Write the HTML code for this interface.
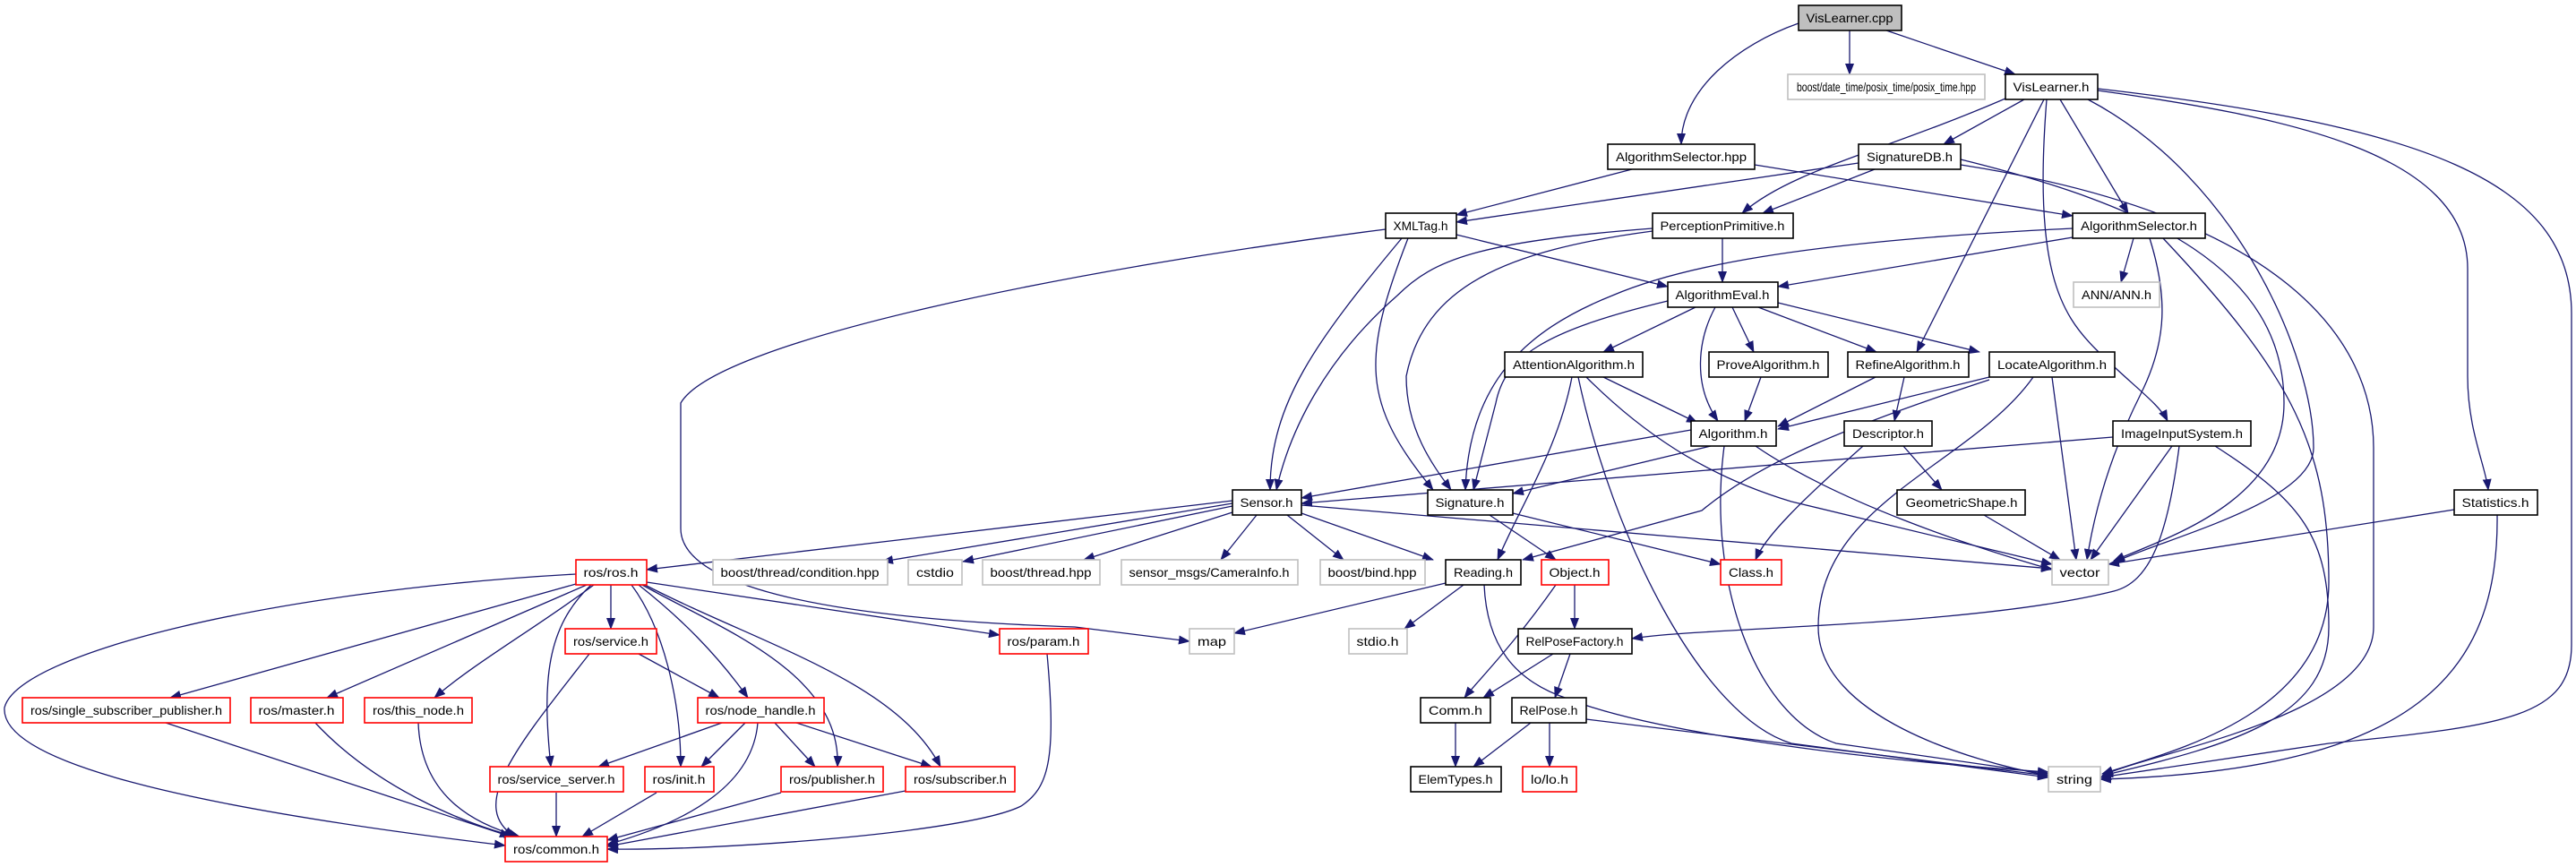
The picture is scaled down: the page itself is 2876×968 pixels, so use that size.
<!DOCTYPE html>
<html><head><meta charset="utf-8"><style>
html,body{margin:0;padding:0;background:#fff;}
svg{display:block;}
text{font-family:"Liberation Sans",sans-serif;font-size:14px;fill:#000;text-anchor:middle;}
.e path{fill:none;stroke:#191970;stroke-width:1.3;}
.n{fill:#fff;stroke:#000;stroke-width:1.6;}
.g{fill:#fff;stroke:#bfbfbf;stroke-width:1.6;}
.r{fill:#fff;stroke:#ff0000;stroke-width:1.6;}
</style></head><body>
<svg width="2876" height="968" viewBox="0 0 2876 968" xmlns="http://www.w3.org/2000/svg">
<defs><marker id="a" markerWidth="13" markerHeight="10" refX="12" refY="5" orient="auto" markerUnits="userSpaceOnUse"><path d="M0,0 L13,5 L0,10 z" fill="#191970"/></marker></defs>
<g class="e" marker-end="url(#a)">
<path d="M2008 26 C1940 50 1877 100 1877 161" marker-end="url(#a)"/>
<path d="M2065 34 L2065 83" marker-end="url(#a)"/>
<path d="M2106 34 L2250 83" marker-end="url(#a)"/>
<path d="M2260 111 L2170 161" marker-end="url(#a)"/>
<path d="M2239 110 C2100 170 2000 190 1945 238" marker-end="url(#a)"/>
<path d="M2282 111 L2140 393" marker-end="url(#a)"/>
<path d="M2300 111 L2376 238" marker-end="url(#a)"/>
<path d="M2285 111 C2270 300 2300 350 2340 390 C2380 430 2410 450 2420 470" marker-end="url(#a)"/>
<path d="M2331 111 C2500 200 2583 400 2583 500 C2583 560 2420 600 2360 628" marker-end="url(#a)"/>
<path d="M2342 101 C2550 130 2755 170 2755 300 L2755 420 C2755 480 2775 520 2778 547" marker-end="url(#a)"/>
<path d="M2342 99 C2700 140 2871 200 2871 350 L2871 720 C2871 800 2800 810 2600 830 L2345 868" marker-end="url(#a)"/>
<path d="M2075 182 L1626 248" marker-end="url(#a)"/>
<path d="M2093 189 L1968 238" marker-end="url(#a)"/>
<path d="M2189 178 C2400 230 2550 300 2550 450 C2550 560 2420 600 2360 626" marker-end="url(#a)"/>
<path d="M2189 184 C2550 240 2650 380 2650 500 L2650 700 C2650 800 2400 840 2347 866" marker-end="url(#a)"/>
<path d="M1822 189 L1626 240" marker-end="url(#a)"/>
<path d="M1959 184 L2314 241" marker-end="url(#a)"/>
<path d="M1547 256 C1200 300 800 380 760 450 L760 590 C760 650 900 690 1200 700 L1328 716" marker-end="url(#a)"/>
<path d="M1626 262 L1862 320" marker-end="url(#a)"/>
<path d="M1565 266 C1470 380 1418 450 1418 547" marker-end="url(#a)"/>
<path d="M1572 266 C1520 400 1520 450 1600 547" marker-end="url(#a)"/>
<path d="M1923 266 L1923 315" marker-end="url(#a)"/>
<path d="M1845 255 C1650 270 1600 290 1560 330 C1480 400 1440 480 1425 547" marker-end="url(#a)"/>
<path d="M1845 258 C1680 280 1590 320 1570 420 C1570 480 1600 520 1620 547" marker-end="url(#a)"/>
<path d="M2314 265 L1985 320" marker-end="url(#a)"/>
<path d="M2314 255 C2000 270 1870 300 1800 330 C1700 370 1640 430 1636 547" marker-end="url(#a)"/>
<path d="M2382 266 L2368 315" marker-end="url(#a)"/>
<path d="M2400 266 C2420 330 2420 380 2390 440 C2360 500 2340 560 2330 625" marker-end="url(#a)"/>
<path d="M2415 266 C2560 420 2600 500 2600 650 C2600 800 2420 840 2347 864" marker-end="url(#a)"/>
<path d="M1893 343 L1790 393" marker-end="url(#a)"/>
<path d="M1934 343 L1958 393" marker-end="url(#a)"/>
<path d="M1963 343 L2095 393" marker-end="url(#a)"/>
<path d="M1985 338 L2210 393" marker-end="url(#a)"/>
<path d="M1915 343 C1895 380 1890 430 1918 470" marker-end="url(#a)"/>
<path d="M1862 336 C1720 370 1680 400 1670 450 L1645 547" marker-end="url(#a)"/>
<path d="M1790 421 L1895 472" marker-end="url(#a)"/>
<path d="M1755 421 C1740 500 1700 560 1672 625" marker-end="url(#a)"/>
<path d="M1762 421 C1800 600 1900 800 2000 830 L2287 868" marker-end="url(#a)"/>
<path d="M1771 421 C1830 480 1900 530 2000 560 L2291 630" marker-end="url(#a)"/>
<path d="M1966 421 L1948 470" marker-end="url(#a)"/>
<path d="M2094 421 L1985 476" marker-end="url(#a)"/>
<path d="M2126 421 L2115 470" marker-end="url(#a)"/>
<path d="M2221 421 L1985 479" marker-end="url(#a)"/>
<path d="M2221 424 C2050 480 1960 520 1900 570 L1700 625" marker-end="url(#a)"/>
<path d="M2291 421 L2318 625" marker-end="url(#a)"/>
<path d="M2270 421 C2200 520 2030 560 2030 700 C2030 800 2200 850 2287 866" marker-end="url(#a)"/>
<path d="M1888 480 L1453 556" marker-end="url(#a)"/>
<path d="M1910 498 L1689 551" marker-end="url(#a)"/>
<path d="M1960 498 C2050 560 2200 610 2291 636" marker-end="url(#a)"/>
<path d="M1925 498 C1905 650 1960 800 2050 830 L2287 864" marker-end="url(#a)"/>
<path d="M2080 498 C2010 560 1970 600 1960 625" marker-end="url(#a)"/>
<path d="M2125 498 L2168 547" marker-end="url(#a)"/>
<path d="M2359 488 L1453 562" marker-end="url(#a)"/>
<path d="M2425 498 L2334 625" marker-end="url(#a)"/>
<path d="M2433 498 C2420 600 2400 650 2360 660 C2200 700 1900 700 1822 713" marker-end="url(#a)"/>
<path d="M2473 498 C2570 560 2600 600 2600 700 C2600 800 2500 830 2347 866" marker-end="url(#a)"/>
<path d="M2215 575 L2300 625" marker-end="url(#a)"/>
<path d="M2740 569 L2354 630" marker-end="url(#a)"/>
<path d="M2788 575 C2790 750 2700 860 2345 870" marker-end="url(#a)"/>
<path d="M1376 559 L722 636" marker-end="url(#a)"/>
<path d="M1376 562 L985 627" marker-end="url(#a)"/>
<path d="M1376 565 L1075 627" marker-end="url(#a)"/>
<path d="M1376 572 L1210 625" marker-end="url(#a)"/>
<path d="M1403 575 L1363 625" marker-end="url(#a)"/>
<path d="M1437 575 L1500 625" marker-end="url(#a)"/>
<path d="M1453 573 L1600 625" marker-end="url(#a)"/>
<path d="M1453 564 L2291 635" marker-end="url(#a)"/>
<path d="M1663 575 L1737 625" marker-end="url(#a)"/>
<path d="M1689 573 L1921 630" marker-end="url(#a)"/>
<path d="M1614 651 L1378 707" marker-end="url(#a)"/>
<path d="M1634 653 L1568 702" marker-end="url(#a)"/>
<path d="M1657 653 C1660 720 1690 760 1750 780 C1850 820 2100 850 2287 862" marker-end="url(#a)"/>
<path d="M1758 653 L1758 702" marker-end="url(#a)"/>
<path d="M1737 653 C1690 720 1650 760 1635 779" marker-end="url(#a)"/>
<path d="M1734 730 L1656 779" marker-end="url(#a)"/>
<path d="M1753 730 L1736 779" marker-end="url(#a)"/>
<path d="M1709 807 L1645 856" marker-end="url(#a)"/>
<path d="M1730 807 L1730 856" marker-end="url(#a)"/>
<path d="M1771 803 L2287 866" marker-end="url(#a)"/>
<path d="M1625 807 L1625 856" marker-end="url(#a)"/>
<path d="M643 641 C300 660 20 730 5 790 C0 850 200 900 564 944" marker-end="url(#a)"/>
<path d="M643 652 L190 779" marker-end="url(#a)"/>
<path d="M655 653 L365 779" marker-end="url(#a)"/>
<path d="M663 653 C600 700 530 740 485 779" marker-end="url(#a)"/>
<path d="M682 653 L682 702" marker-end="url(#a)"/>
<path d="M660 653 C610 700 605 760 615 856" marker-end="url(#a)"/>
<path d="M705 653 C740 700 760 780 760 856" marker-end="url(#a)"/>
<path d="M713 653 C760 690 800 730 835 779" marker-end="url(#a)"/>
<path d="M717 653 C800 700 940 750 935 856" marker-end="url(#a)"/>
<path d="M720 653 C850 720 1000 760 1050 856" marker-end="url(#a)"/>
<path d="M722 650 L1116 709" marker-end="url(#a)"/>
<path d="M713 730 L803 779" marker-end="url(#a)"/>
<path d="M658 730 C580 830 520 900 575 934" marker-end="url(#a)"/>
<path d="M806 807 L668 856" marker-end="url(#a)"/>
<path d="M832 807 L783 856" marker-end="url(#a)"/>
<path d="M846 807 C840 880 760 920 678 943" marker-end="url(#a)"/>
<path d="M865 807 L910 856" marker-end="url(#a)"/>
<path d="M889 807 L1040 856" marker-end="url(#a)"/>
<path d="M185 807 L570 934" marker-end="url(#a)"/>
<path d="M352 807 C420 880 520 920 575 934" marker-end="url(#a)"/>
<path d="M467 807 C470 890 530 920 580 934" marker-end="url(#a)"/>
<path d="M621 885 L621 934" marker-end="url(#a)"/>
<path d="M733 885 L650 934" marker-end="url(#a)"/>
<path d="M872 885 L678 938" marker-end="url(#a)"/>
<path d="M1011 883 L678 945" marker-end="url(#a)"/>
<path d="M1169 730 C1180 850 1170 880 1140 900 C1080 930 800 950 678 948" marker-end="url(#a)"/>
</g>
<g>
<rect x="2008" y="6" width="115" height="28" class="n" style="fill:#bfbfbf"/><text x="2065" y="25" textLength="97" lengthAdjust="spacingAndGlyphs">VisLearner.cpp</text>
<rect x="1996" y="83" width="220" height="28" class="g"/><text x="2106" y="102" textLength="200" lengthAdjust="spacingAndGlyphs">boost/date_time/posix_time/posix_time.hpp</text>
<rect x="2239" y="83" width="103" height="28" class="n"/><text x="2290" y="102" textLength="85" lengthAdjust="spacingAndGlyphs">VisLearner.h</text>
<rect x="2075" y="161" width="114" height="28" class="n"/><text x="2132" y="180" textLength="96" lengthAdjust="spacingAndGlyphs">SignatureDB.h</text>
<rect x="1795" y="161" width="164" height="28" class="n"/><text x="1877" y="180" textLength="146" lengthAdjust="spacingAndGlyphs">AlgorithmSelector.hpp</text>
<rect x="1547" y="238" width="79" height="28" class="n"/><text x="1586" y="257" textLength="61" lengthAdjust="spacingAndGlyphs">XMLTag.h</text>
<rect x="1845" y="238" width="157" height="28" class="n"/><text x="1923" y="257" textLength="139" lengthAdjust="spacingAndGlyphs">PerceptionPrimitive.h</text>
<rect x="2314" y="238" width="148" height="28" class="n"/><text x="2388" y="257" textLength="130" lengthAdjust="spacingAndGlyphs">AlgorithmSelector.h</text>
<rect x="1862" y="315" width="123" height="28" class="n"/><text x="1923" y="334" textLength="105" lengthAdjust="spacingAndGlyphs">AlgorithmEval.h</text>
<rect x="2315" y="315" width="96" height="28" class="g"/><text x="2363" y="334" textLength="78" lengthAdjust="spacingAndGlyphs">ANN/ANN.h</text>
<rect x="1680" y="393" width="154" height="28" class="n"/><text x="1757" y="412" textLength="136" lengthAdjust="spacingAndGlyphs">AttentionAlgorithm.h</text>
<rect x="1908" y="393" width="133" height="28" class="n"/><text x="1974" y="412" textLength="115" lengthAdjust="spacingAndGlyphs">ProveAlgorithm.h</text>
<rect x="2063" y="393" width="135" height="28" class="n"/><text x="2130" y="412" textLength="117" lengthAdjust="spacingAndGlyphs">RefineAlgorithm.h</text>
<rect x="2221" y="393" width="140" height="28" class="n"/><text x="2291" y="412" textLength="122" lengthAdjust="spacingAndGlyphs">LocateAlgorithm.h</text>
<rect x="1888" y="470" width="95" height="28" class="n"/><text x="1935" y="489" textLength="77" lengthAdjust="spacingAndGlyphs">Algorithm.h</text>
<rect x="2059" y="470" width="98" height="28" class="n"/><text x="2108" y="489" textLength="80" lengthAdjust="spacingAndGlyphs">Descriptor.h</text>
<rect x="2359" y="470" width="154" height="28" class="n"/><text x="2436" y="489" textLength="136" lengthAdjust="spacingAndGlyphs">ImageInputSystem.h</text>
<rect x="1376" y="547" width="77" height="28" class="n"/><text x="1414" y="566" textLength="59" lengthAdjust="spacingAndGlyphs">Sensor.h</text>
<rect x="1594" y="547" width="95" height="28" class="n"/><text x="1641" y="566" textLength="77" lengthAdjust="spacingAndGlyphs">Signature.h</text>
<rect x="2118" y="547" width="143" height="28" class="n"/><text x="2190" y="566" textLength="125" lengthAdjust="spacingAndGlyphs">GeometricShape.h</text>
<rect x="2740" y="547" width="93" height="28" class="n"/><text x="2786" y="566" textLength="75" lengthAdjust="spacingAndGlyphs">Statistics.h</text>
<rect x="643" y="625" width="79" height="28" class="r"/><text x="682" y="644" textLength="61" lengthAdjust="spacingAndGlyphs">ros/ros.h</text>
<rect x="796" y="625" width="195" height="28" class="g"/><text x="893" y="644" textLength="177" lengthAdjust="spacingAndGlyphs">boost/thread/condition.hpp</text>
<rect x="1014" y="625" width="60" height="28" class="g"/><text x="1044" y="644" textLength="42" lengthAdjust="spacingAndGlyphs">cstdio</text>
<rect x="1097" y="625" width="131" height="28" class="g"/><text x="1162" y="644" textLength="113" lengthAdjust="spacingAndGlyphs">boost/thread.hpp</text>
<rect x="1252" y="625" width="197" height="28" class="g"/><text x="1350" y="644" textLength="179" lengthAdjust="spacingAndGlyphs">sensor_msgs/CameraInfo.h</text>
<rect x="1474" y="625" width="117" height="28" class="g"/><text x="1532" y="644" textLength="99" lengthAdjust="spacingAndGlyphs">boost/bind.hpp</text>
<rect x="1614" y="625" width="84" height="28" class="n"/><text x="1656" y="644" textLength="66" lengthAdjust="spacingAndGlyphs">Reading.h</text>
<rect x="1721" y="625" width="75" height="28" class="r"/><text x="1758" y="644" textLength="57" lengthAdjust="spacingAndGlyphs">Object.h</text>
<rect x="1921" y="625" width="68" height="28" class="r"/><text x="1955" y="644" textLength="50" lengthAdjust="spacingAndGlyphs">Class.h</text>
<rect x="2291" y="625" width="63" height="28" class="g"/><text x="2322" y="644" textLength="45" lengthAdjust="spacingAndGlyphs">vector</text>
<rect x="631" y="702" width="102" height="28" class="r"/><text x="682" y="721" textLength="84" lengthAdjust="spacingAndGlyphs">ros/service.h</text>
<rect x="1116" y="702" width="99" height="28" class="r"/><text x="1165" y="721" textLength="81" lengthAdjust="spacingAndGlyphs">ros/param.h</text>
<rect x="1328" y="702" width="50" height="28" class="g"/><text x="1353" y="721" textLength="32" lengthAdjust="spacingAndGlyphs">map</text>
<rect x="1506" y="702" width="65" height="28" class="g"/><text x="1538" y="721" textLength="47" lengthAdjust="spacingAndGlyphs">stdio.h</text>
<rect x="1695" y="702" width="127" height="28" class="n"/><text x="1758" y="721" textLength="109" lengthAdjust="spacingAndGlyphs">RelPoseFactory.h</text>
<rect x="25" y="779" width="232" height="28" class="r"/><text x="141" y="798" textLength="214" lengthAdjust="spacingAndGlyphs">ros/single_subscriber_publisher.h</text>
<rect x="280" y="779" width="103" height="28" class="r"/><text x="331" y="798" textLength="85" lengthAdjust="spacingAndGlyphs">ros/master.h</text>
<rect x="407" y="779" width="120" height="28" class="r"/><text x="467" y="798" textLength="102" lengthAdjust="spacingAndGlyphs">ros/this_node.h</text>
<rect x="779" y="779" width="141" height="28" class="r"/><text x="849" y="798" textLength="123" lengthAdjust="spacingAndGlyphs">ros/node_handle.h</text>
<rect x="1586" y="779" width="78" height="28" class="n"/><text x="1625" y="798" textLength="60" lengthAdjust="spacingAndGlyphs">Comm.h</text>
<rect x="1688" y="779" width="83" height="28" class="n"/><text x="1729" y="798" textLength="65" lengthAdjust="spacingAndGlyphs">RelPose.h</text>
<rect x="547" y="856" width="149" height="28" class="r"/><text x="621" y="875" textLength="131" lengthAdjust="spacingAndGlyphs">ros/service_server.h</text>
<rect x="720" y="856" width="77" height="28" class="r"/><text x="758" y="875" textLength="59" lengthAdjust="spacingAndGlyphs">ros/init.h</text>
<rect x="872" y="856" width="114" height="28" class="r"/><text x="929" y="875" textLength="96" lengthAdjust="spacingAndGlyphs">ros/publisher.h</text>
<rect x="1011" y="856" width="122" height="28" class="r"/><text x="1072" y="875" textLength="104" lengthAdjust="spacingAndGlyphs">ros/subscriber.h</text>
<rect x="1575" y="856" width="101" height="28" class="n"/><text x="1625" y="875" textLength="83" lengthAdjust="spacingAndGlyphs">ElemTypes.h</text>
<rect x="1700" y="856" width="60" height="28" class="r"/><text x="1730" y="875" textLength="42" lengthAdjust="spacingAndGlyphs">lo/lo.h</text>
<rect x="2287" y="856" width="58" height="28" class="g"/><text x="2316" y="875" textLength="40" lengthAdjust="spacingAndGlyphs">string</text>
<rect x="564" y="934" width="114" height="28" class="r"/><text x="621" y="953" textLength="96" lengthAdjust="spacingAndGlyphs">ros/common.h</text>
</g>
</svg>
</body></html>
